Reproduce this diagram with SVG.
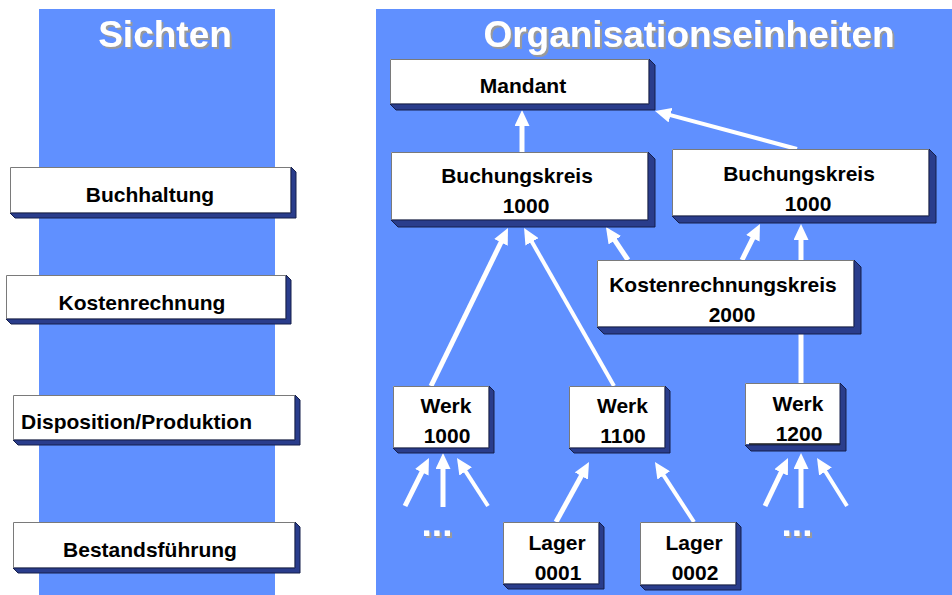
<svg xmlns="http://www.w3.org/2000/svg" width="952" height="595" viewBox="0 0 952 595">
  <style>
    .panel { fill: #6090ff; }
    .face { fill: #ffffff; }
    .bevel { fill: #2a3d8c; stroke: #141e4a; stroke-width: 1; stroke-linejoin: miter; }
    .rim { fill: none; stroke: #7a7a7a; stroke-width: 1; }
    .inner { fill: none; stroke: #c8c8c8; stroke-width: 1; }
    .inner-dark { fill: none; stroke: #1a1a1a; stroke-width: 1.5; }
    .lbl { font-family: "Liberation Sans", Arial, sans-serif; font-weight: bold; font-size: 21px; fill: #000000; text-anchor: middle; }
    .lbl-start { text-anchor: start; }
    .title { font-family: "Liberation Sans", Arial, sans-serif; font-weight: bold; font-size: 37px; fill: #ffffff; text-anchor: middle; filter: url(#embossed); }
    .arrow { stroke: #ffffff; fill: none; stroke-linecap: butt; marker-end: url(#head); }
    .plain { stroke: #ffffff; fill: none; stroke-linecap: butt; }
  </style>
  <defs>
    <marker id="head" viewBox="0 0 16 15" refX="6" refY="7.5" markerWidth="16" markerHeight="15" markerUnits="userSpaceOnUse" orient="auto">
      <path d="M0,0 L16,7.5 L0,15 Z" fill="#ffffff"/>
    </marker>
    <!-- grey drop shadow behind the white headings -->
    <filter id="embossed" x="-5%" y="-20%" width="110%" height="140%">
      <feFlood flood-color="#9a9a9a" result="grey"/>
      <feComposite in="grey" in2="SourceAlpha" operator="in" result="tinted"/>
      <feOffset in="tinted" dx="2" dy="2" result="shadow"/>
      <feMerge>
        <feMergeNode in="shadow"/>
        <feMergeNode in="SourceGraphic"/>
      </feMerge>
    </filter>
  </defs>

  <!-- background panels -->
  <rect class="panel" x="39" y="9" width="236" height="586"/>
  <rect class="panel" x="376" y="9" width="576" height="586"/>

  <!-- headings -->
  <g id="heading-views">
    <text class="title" x="165" y="47">Sichten</text>
  </g>
  <g id="heading-units">
    <text class="title" x="689" y="47">Organisationseinheiten</text>
  </g>

  <!-- connectors -->
  <g id="connectors">
    <line class="arrow" stroke-width="5" x1="522" y1="152" x2="522" y2="120"/>
    <line class="arrow" stroke-width="4" x1="797" y1="149" x2="664.7" y2="113.6"/>
    <line class="arrow" stroke-width="5" x1="431" y1="386" x2="503.6" y2="237"/>
    <line class="arrow" stroke-width="4" x1="614" y1="386" x2="529" y2="236.7"/>
    <line class="arrow" stroke-width="5" x1="628" y1="260" x2="611.5" y2="235.3"/>
    <line class="arrow" stroke-width="5" x1="742" y1="260" x2="755.5" y2="232.9"/>
    <line class="arrow" stroke-width="5" x1="801" y1="260" x2="801" y2="234"/>
    <line class="plain" stroke-width="5" x1="801" y1="334" x2="801" y2="383"/>
    <line class="arrow" stroke-width="5" x1="556" y1="522" x2="584.2" y2="470.8"/>
    <line class="arrow" stroke-width="4" x1="694" y1="522" x2="660.4" y2="470.4"/>
    <line class="arrow" stroke-width="5" x1="405" y1="506" x2="424.5" y2="466.9"/>
    <line class="arrow" stroke-width="5" x1="443" y1="507" x2="443" y2="463"/>
    <line class="arrow" stroke-width="4" x1="488" y1="506" x2="462.4" y2="466.4"/>
    <line class="arrow" stroke-width="5" x1="765" y1="506" x2="783.7" y2="467"/>
    <line class="arrow" stroke-width="5" x1="801" y1="508" x2="801" y2="463"/>
    <line class="arrow" stroke-width="4" x1="847" y1="506" x2="822.3" y2="466.5"/>
  </g>

  <!-- ellipsis marks below the plants -->
  <g id="more-left">
    <text class="title" x="437" y="536">...</text>
  </g>
  <g id="more-right">
    <text class="title" x="797" y="536">...</text>
  </g>

  <!-- view boxes -->
  <g id="buchhaltung" transform="translate(10,167)">
    <rect class="face" width="281" height="46"/>
    <path class="inner" d="M1,45.5 H280.5 V1"/>
    <path class="bevel" d="M281,0 L286,5 L286,51 L5,51 L0,46 L281,46 Z"/>
    <path class="rim" d="M0.5,46 V0.5 H281"/>
    <text class="lbl" x="140" y="35">Buchhaltung</text>
  </g>
  <g id="kostenrechnung" transform="translate(6,275)">
    <rect class="face" width="280" height="44"/>
    <path class="inner" d="M1,43.5 H279.5 V1"/>
    <path class="bevel" d="M280,0 L285,5 L285,49 L5,49 L0,44 L280,44 Z"/>
    <path class="rim" d="M0.5,44 V0.5 H280"/>
    <text class="lbl" x="136" y="35">Kostenrechnung</text>
  </g>
  <g id="disposition" transform="translate(13,395)">
    <rect class="face" width="282" height="45"/>
    <path class="inner" d="M1,44.5 H281.5 V1"/>
    <path class="bevel" d="M282,0 L287,5 L287,50 L5,50 L0,45 L282,45 Z"/>
    <path class="rim" d="M0.5,45 V0.5 H282"/>
    <text class="lbl lbl-start" x="8" y="34">Disposition/Produktion</text>
  </g>
  <g id="bestandsfuehrung" transform="translate(13,522)">
    <rect class="face" width="282" height="46"/>
    <path class="inner" d="M1,45.5 H281.5 V1"/>
    <path class="bevel" d="M282,0 L287,5 L287,51 L5,51 L0,46 L282,46 Z"/>
    <path class="rim" d="M0.5,46 V0.5 H282"/>
    <text class="lbl" x="137" y="35">Bestandsführung</text>
  </g>

  <!-- organisational units -->
  <g id="mandant" transform="translate(390,59)">
    <rect class="face" width="259" height="45"/>
    <path class="inner" d="M1,44.5 H258.5 V1"/>
    <path class="bevel" d="M259,0 L265,6 L265,51 L6,51 L0,45 L259,45 Z"/>
    <path class="rim" d="M0.5,45 V0.5 H259"/>
    <text class="lbl" x="133" y="34">Mandant</text>
  </g>
  <g id="buchungskreis-a" transform="translate(391,152)">
    <rect class="face" width="257" height="68"/>
    <path class="inner" d="M1,67.5 H256.5 V1"/>
    <path class="bevel" d="M257,0 L264,7 L264,75 L7,75 L0,68 L257,68 Z"/>
    <path class="rim" d="M0.5,68 V0.5 H257"/>
    <text class="lbl" x="126" y="31">Buchungskreis</text>
    <text class="lbl" x="135" y="61">1000</text>
  </g>
  <g id="buchungskreis-b" transform="translate(672,149)">
    <rect class="face" width="257" height="67"/>
    <path class="inner" d="M1,66.5 H256.5 V1"/>
    <path class="bevel" d="M257,0 L264,7 L264,74 L7,74 L0,67 L257,67 Z"/>
    <path class="rim" d="M0.5,67 V0.5 H257"/>
    <text class="lbl" x="127" y="32">Buchungskreis</text>
    <text class="lbl" x="136" y="62">1000</text>
  </g>
  <g id="kostenrechnungskreis" transform="translate(597,260)">
    <rect class="face" width="257" height="67"/>
    <path class="inner" d="M1,66.5 H256.5 V1"/>
    <path class="bevel" d="M257,0 L264,7 L264,74 L7,74 L0,67 L257,67 Z"/>
    <path class="rim" d="M0.5,67 V0.5 H257"/>
    <text class="lbl" x="126" y="32">Kostenrechnungskreis</text>
    <text class="lbl" x="135" y="62">2000</text>
  </g>
  <g id="werk-1000" transform="translate(393,386)">
    <rect class="face" width="96" height="62"/>
    <path class="inner" d="M1,61.5 H95.5 V1"/>
    <path class="bevel" d="M96,0 L101,5 L101,67 L5,67 L0,62 L96,62 Z"/>
    <path class="rim" d="M0.5,62 V0.5 H96"/>
    <text class="lbl" x="53" y="27">Werk</text>
    <text class="lbl" x="54" y="57">1000</text>
  </g>
  <g id="werk-1100" transform="translate(569,386)">
    <rect class="face" width="96" height="62"/>
    <path class="inner" d="M1,61.5 H95.5 V1"/>
    <path class="bevel" d="M96,0 L101,5 L101,67 L5,67 L0,62 L96,62 Z"/>
    <path class="rim" d="M0.5,62 V0.5 H96"/>
    <text class="lbl" x="53.5" y="27">Werk</text>
    <text class="lbl" x="54" y="57">1100</text>
  </g>
  <g id="werk-1200" transform="translate(745,383)">
    <rect class="face" width="95" height="61"/>
    <path class="bevel" d="M95,0 L101,6 L101,68 L6,68 L0,62 L95,62 Z"/>
    <path class="inner-dark" d="M4,61 H95"/>
    <path class="rim" d="M0.5,62 V0.5 H95"/>
    <text class="lbl" x="53" y="28">Werk</text>
    <text class="lbl" x="54" y="58">1200</text>
  </g>
  <g id="lager-0001" transform="translate(503,522)">
    <rect class="face" width="96" height="62"/>
    <path class="inner" d="M1,61.5 H95.5 V1"/>
    <path class="bevel" d="M96,0 L101,5 L101,67 L5,67 L0,62 L96,62 Z"/>
    <path class="rim" d="M0.5,62 V0.5 H96"/>
    <text class="lbl" x="54" y="28">Lager</text>
    <text class="lbl" x="55" y="58">0001</text>
  </g>
  <g id="lager-0002" transform="translate(640,522)">
    <rect class="face" width="96" height="63"/>
    <path class="inner" d="M1,62.5 H95.5 V1"/>
    <path class="bevel" d="M96,0 L101,5 L101,68 L5,68 L0,63 L96,63 Z"/>
    <path class="rim" d="M0.5,63 V0.5 H96"/>
    <text class="lbl" x="54" y="28">Lager</text>
    <text class="lbl" x="55" y="58">0002</text>
  </g>
</svg>
